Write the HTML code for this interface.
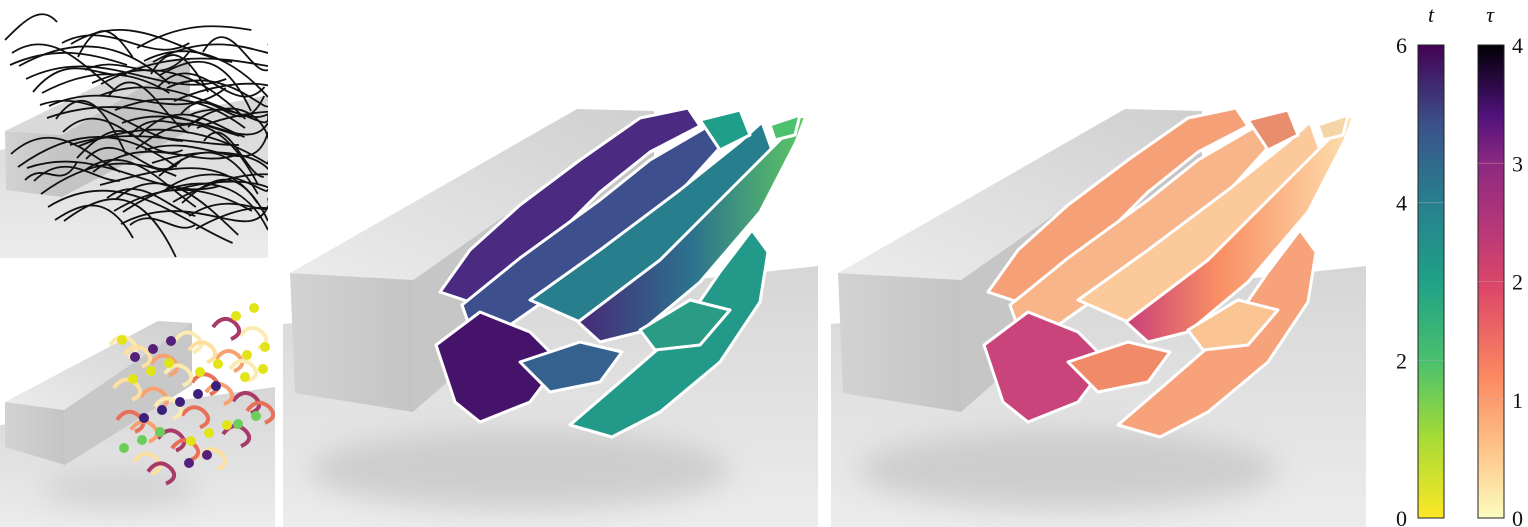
<!DOCTYPE html>
<html><head><meta charset="utf-8"><style>
html,body{margin:0;padding:0;background:#fff;width:1528px;height:527px;overflow:hidden}
svg{display:block}
text{font-family:"Liberation Serif",serif;fill:#111}
</style></head><body>
<svg id="fig" width="1528" height="527" viewBox="0 0 1528 527" xmlns="http://www.w3.org/2000/svg">
<defs>
<filter id="blur" x="-30%" y="-50%" width="160%" height="200%"><feGaussianBlur stdDeviation="14"/></filter>
<clipPath id="tlClip"><rect x="0" y="0" width="268" height="258"/></clipPath>
<clipPath id="blClip"><rect x="0" y="265" width="275" height="262"/></clipPath>
<linearGradient id="floorG" x1="0" y1="0" x2="0" y2="1"><stop offset="0" stop-color="#d6d6d6"/><stop offset="1" stop-color="#ececec"/></linearGradient>
<linearGradient id="topG" x1="0" y1="1" x2="1" y2="0"><stop offset="0" stop-color="#ececec"/><stop offset="1" stop-color="#cfcfcf"/></linearGradient>
<linearGradient id="frontG" x1="0" y1="0" x2="1" y2="0"><stop offset="0" stop-color="#d2d2d2"/><stop offset="1" stop-color="#c4c4c4"/></linearGradient>
<linearGradient id="viridis" x1="0" y1="1" x2="0" y2="0">
<stop offset="0" stop-color="#fde725"/><stop offset="0.17" stop-color="#a5db36"/><stop offset="0.33" stop-color="#4ac16d"/><stop offset="0.5" stop-color="#1fa187"/><stop offset="0.67" stop-color="#277f8e"/><stop offset="0.83" stop-color="#3b528b"/><stop offset="1" stop-color="#440154"/></linearGradient>
<linearGradient id="magma" x1="0" y1="1" x2="0" y2="0">
<stop offset="0" stop-color="#fcfdbf"/><stop offset="0.15" stop-color="#fec287"/><stop offset="0.3" stop-color="#fb8861"/><stop offset="0.48" stop-color="#de4968"/><stop offset="0.62" stop-color="#b5367a"/><stop offset="0.75" stop-color="#8c2981"/><stop offset="0.85" stop-color="#51127c"/><stop offset="1" stop-color="#000004"/></linearGradient>
<linearGradient id="vBand" x1="0" y1="0" x2="1" y2="0"><stop offset="0" stop-color="#482878"/><stop offset="0.5" stop-color="#2c728e"/><stop offset="1" stop-color="#5ec962"/></linearGradient>
<linearGradient id="mBand" x1="0" y1="0" x2="1" y2="0"><stop offset="0" stop-color="#c83f7a"/><stop offset="0.4" stop-color="#f98e63"/><stop offset="1" stop-color="#fde2b0"/></linearGradient>
</defs>

<g clip-path="url(#tlClip)">
<polygon points="0,150 268,95 268,258 0,258" fill="url(#floorG)"/>
<polygon points="5,131 150,60 190,58 62,135" fill="#d9d9d9"/>
<polygon points="5,131 62,135 62,197 6,190" fill="url(#frontG)"/>
<polygon points="62,135 190,58 190,130 62,197" fill="#c4c4c4"/>
<g id="streams" fill="none" stroke="#111" stroke-width="1.8"></g>
</g>

<g clip-path="url(#blClip)">
<polygon points="0,425 275,387 275,527 0,527" fill="url(#floorG)"/>
<ellipse cx="120" cy="490" rx="80" ry="18" fill="#bdbdbd" filter="url(#blur)" opacity="0.5"/>
<polygon points="5,402 158,321 192,323 64,410" fill="url(#topG)"/>
<polygon points="5,402 64,410 65,465 5,447" fill="url(#frontG)"/>
<polygon points="64,410 192,323 192,385 65,465" fill="#c8c8c8"/>
<g id="tubes"></g>
</g>

<g id="mid"></g>
<g id="right" transform="translate(548,0)"></g>

<g>
<text x="1431" y="22" font-size="22" font-style="italic" text-anchor="middle">t</text>
<rect x="1418" y="45" width="26" height="473" fill="url(#viridis)" stroke="#222" stroke-width="1"/>
<g id="tTicks"></g>
</g>
<g>
<text x="1490" y="22" font-size="22" font-style="italic" text-anchor="middle">τ</text>
<rect x="1478" y="45" width="26" height="473" fill="url(#magma)" stroke="#222" stroke-width="1"/>
<g id="tauTicks"></g>
</g>
</svg>
<script>
const NS='http://www.w3.org/2000/svg';
const tTickValues=[0,2,4,6];
const tauTickValues=[0,1,2,3,4];
function mk(tag,attrs,parent){const e=document.createElementNS(NS,tag);for(const k in attrs)e.setAttribute(k,attrs[k]);parent.appendChild(e);return e;}
function yScale(v,max){return 518-(v/max)*473;}
const tG=document.getElementById('tTicks');
tTickValues.forEach(v=>{const y=yScale(v,6);
 const t=mk('text',{x:1407,y:y+8,'font-size':22,'text-anchor':'end'},tG);t.textContent=v;
 
 
 if(v>0&&v<6){const l=mk('line',{x1:1418,x2:1444,y1:y,y2:y,stroke:'#9aa','stroke-width':0.8,opacity:0.6},tG);
 
 }
});
const uG=document.getElementById('tauTicks');
tauTickValues.forEach(v=>{const y=yScale(v,4);
 const t=mk('text',{x:1512,y:y+8,'font-size':22},uG);t.textContent=v;
 
 
 if(v>0&&v<4){const l=mk('line',{x1:1478,x2:1504,y1:y,y2:y,stroke:'#c99','stroke-width':0.8,opacity:0.6},uG);
 
 }
});

const sG=document.getElementById('streams');
for(let i=0;i<70;i++){
 const x0=5+((i*37)%200), y0=40+((i*53)%190);
 const r=20+((i*29)%60);
 const d=`M${x0},${y0} C${x0+r},${y0-20-(i%5)*6} ${x0+r*1.8},${y0+((i%7)-3)*12} ${Math.min(268,x0+r*2.6)},${y0+((i%4)-1)*18}`;
 const p=mk('path',{d:d},sG);
 
 
}
const tubeCols=['#fcebb0','#f7a070','#e8705a','#a83a6a','#fde0a0'];
const tG2=document.getElementById('tubes');
for(let i=0;i<26;i++){
 const cx=125+((i*41)%140), cy=325+((i*31)%140)-((i*41)%140)*0.3+20;
 const p=mk('path',{d:`M${cx-15},${cy} q10,-14 22,-4 q10,10 -4,16`,fill:'none',stroke:tubeCols[i%5],'stroke-width':4},tG2);
 
 
}
const ballCols=['#e2e418','#e2e418','#3b1f7a','#e2e418','#6ccd5a','#55207a'];
for(let i=0;i<30;i++){
 const cx=122+((i*47)%150), cy=330+((i*23)%130)+((i*47)%150>110?-30:10);
 const c=mk('circle',{cx:cx,cy:Math.min(475,cy),r:5,fill:ballCols[i%6]},tG2);
 
 
}

const blobs=[
 {d:'M440,292 L470,250 L520,205 L580,160 L640,118 L688,108 L700,126 L650,152 L600,192 L560,232 L520,270 L470,302 Z',v:'#4b2a82',m:'#f6a078'},
 {d:'M462,305 L520,258 L600,200 L650,160 L705,128 L725,142 L680,192 L620,242 L560,290 L500,332 L468,322 Z',v:'#3d4f8c',m:'#f9b58a'},
 {d:'M530,300 L600,250 L680,190 L740,142 L762,122 L772,150 L720,210 L650,270 L580,322 Z',v:'#277f8e',m:'#fcc99a'},
 {d:'M578,322 L660,260 L730,190 L780,140 L792,118 L806,116 L796,142 L760,212 L700,282 L640,332 L600,342 Z',v:'url(#vBand)',m:'url(#mBand)'},
 {d:'M570,425 L620,382 L680,330 L720,272 L752,230 L768,252 L760,302 L720,362 L660,412 L612,437 Z',v:'#239a89',m:'#f7a27a'},
 {d:'M436,345 L480,312 L530,332 L560,362 L530,402 L480,422 L455,402 Z',v:'#46136b',m:'#c8447a'},
 {d:'M520,362 L580,342 L622,352 L600,382 L550,392 Z',v:'#34618d',m:'#f08a68'},
 {d:'M640,330 L690,300 L730,310 L700,345 L655,350 Z',v:'#2a9b85',m:'#fbc493'},
 {d:'M700,120 L740,110 L750,135 L720,150 Z',v:'#1f9e89',m:'#e88e6c'},
 {d:'M770,125 L800,115 L795,135 L775,140 Z',v:'#4cc26c',m:'#f4d6a6'}
];
function panel(g,key){
 const fl=mk('polygon',{points:'283,324 818,266 818,527 283,527',fill:'url(#floorG)'},g);
 
 
 const sh=mk('ellipse',{cx:520,cy:470,rx:210,ry:40,fill:'#b4b4b4',opacity:0.5,filter:'url(#blur)'},g);
 
 
 const side=mk('polygon',{points:'413,280 654,111 654,200 413,412',fill:'#c6c6c6'},g);
 
 
 const top=mk('polygon',{points:'290,273 577,109 654,111 413,280',fill:'url(#topG)'},g);
 
 
 const fr=mk('polygon',{points:'290,273 413,280 413,412 295,393',fill:'url(#frontG)'},g);
 
 
 blobs.forEach(b=>{const p=mk('path',{d:b.d,fill:b[key],stroke:'#fff','stroke-width':3,'stroke-linejoin':'round'},g);
  
  });
}
panel(document.getElementById('mid'),'v');
panel(document.getElementById('right'),'m');
</script>
</body></html>
